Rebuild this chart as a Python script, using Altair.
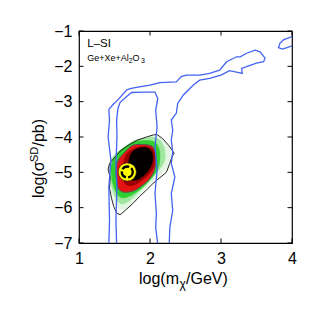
import altair as alt
import pandas as pd

# ---------------- data ----------------
x_ticks = [1, 2, 3, 4]
y_ticks = [-7, -6, -5, -4, -3, -2, -1]

# outer blue (95%) contour
blue_outer_x = [1.42, 1.43, 1.42, 1.45, 1.41, 1.43, 1.42, 1.48, 1.56, 1.67, 1.72, 1.85, 2.00, 2.14,
                2.37, 2.44, 2.51, 2.70, 2.84, 2.98, 3.08, 3.22, 3.27, 3.36, 3.48, 3.55, 3.62, 3.60,
                3.50, 3.36, 3.29, 3.30, 3.12, 3.00, 2.84, 2.70, 2.61, 2.47, 2.39, 2.37, 2.30, 2.32,
                2.30, 2.32, 2.30, 2.35, 2.30, 2.32, 2.28, 2.27]
blue_outer_y = [-7.05, -6.36, -5.41, -4.66, -4.00, -3.52, -3.22, -3.08, -2.92, -2.67, -2.63, -2.58,
                -2.53, -2.46, -2.44, -2.29, -2.25, -2.25, -2.20, -2.11, -1.87, -1.73, -1.73, -1.63,
                -1.54, -1.59, -1.77, -1.87, -1.91, -2.01, -2.06, -2.20, -2.12, -2.25, -2.34, -2.39,
                -2.53, -2.81, -3.05, -3.33, -3.52, -3.81, -4.09, -4.42, -4.75, -5.13, -5.60, -6.08,
                -6.55, -7.05]

# inner blue contour
blue_inner_x = [1.53, 1.52, 1.535, 1.52, 1.535, 1.53, 1.55, 1.58, 1.68, 1.74, 1.90, 2.07, 2.11,
                2.08, 2.10, 2.07, 2.10, 2.07, 2.09, 2.08, 2.11]
blue_inner_y = [-7.05, -6.36, -5.41, -4.75, -4.00, -3.52, -3.18, -3.02, -2.84, -2.74, -2.73, -2.73,
                -2.91, -3.24, -3.71, -4.28, -4.94, -5.60, -6.17, -6.55, -7.05]

# blue island entering from the upper right corner
blue_corner_x = [4.05, 4.00, 3.88, 3.83, 3.81, 3.86, 3.93, 4.00, 4.05]
blue_corner_y = [-1.13, -1.16, -1.25, -1.35, -1.47, -1.51, -1.47, -1.42, -1.40]

# black contour of the filled region
black_x = [1.41, 1.43, 1.50, 1.58, 1.68, 1.81, 1.95, 2.05, 2.10, 2.18, 2.26, 2.31, 2.34, 2.31,
           2.28, 2.23, 2.14, 2.04, 1.95, 1.85, 1.76, 1.66, 1.58, 1.53, 1.49, 1.46, 1.43, 1.44, 1.41]
black_y = [-4.92, -4.75, -4.58, -4.40, -4.25, -4.10, -4.00, -3.94, -3.93, -4.05, -4.23, -4.37,
           -4.46, -4.56, -4.74, -5.00, -5.15, -5.32, -5.50, -5.69, -5.88, -6.06, -6.20, -6.15,
           -5.97, -5.75, -5.45, -5.15, -4.92]

# filled probability levels (outer to inner)
pale_x = [1.42, 1.44, 1.50, 1.60, 1.72, 1.88, 2.02, 2.10, 2.20, 2.28, 2.28, 2.22, 2.10, 1.96,
          1.82, 1.70, 1.60, 1.52, 1.46, 1.44]
pale_y = [-4.92, -4.72, -4.55, -4.38, -4.22, -4.05, -3.98, -3.97, -4.12, -4.35, -4.60, -4.90,
          -5.15, -5.42, -5.72, -5.96, -6.06, -5.92, -5.60, -5.20]
light_x = [1.43, 1.45, 1.53, 1.64, 1.78, 1.93, 2.06, 2.15, 2.21, 2.20, 2.10, 1.97, 1.82, 1.68,
           1.58, 1.50, 1.45]
light_y = [-4.92, -4.65, -4.45, -4.28, -4.10, -4.03, -4.01, -4.12, -4.38, -4.70, -5.00, -5.30,
           -5.60, -5.85, -5.88, -5.65, -5.30]
green_x = [1.45, 1.48, 1.56, 1.66, 1.78, 1.92, 2.04, 2.11, 2.14, 2.12, 2.04, 1.92, 1.78, 1.64,
           1.55, 1.48]
green_y = [-4.92, -4.65, -4.42, -4.27, -4.14, -4.10, -4.12, -4.25, -4.50, -4.85, -5.12, -5.38,
           -5.60, -5.72, -5.65, -5.35]
red_x = [1.52, 1.555, 1.65, 1.765, 1.95, 2.047, 2.085, 2.06, 1.98, 1.87, 1.765, 1.624, 1.554, 1.53]
red_y = [-4.93, -4.65, -4.42, -4.23, -4.22, -4.30, -4.60, -4.95, -5.22, -5.40, -5.53, -5.56,
         -5.45, -5.22]
darkred_x = [1.62, 1.66, 1.74, 1.85, 1.96, 2.04, 2.07, 2.05, 1.97, 1.85, 1.73, 1.64, 1.61]
darkred_y = [-4.80, -4.52, -4.37, -4.28, -4.27, -4.35, -4.56, -4.85, -5.08, -5.28, -5.38, -5.30,
             -5.05]
core_x = [1.70, 1.74, 1.82, 1.93, 2.01, 2.04, 2.02, 1.95, 1.85, 1.75, 1.69]
core_y = [-4.70, -4.45, -4.33, -4.30, -4.38, -4.56, -4.80, -5.02, -5.18, -5.22, -5.05]

best_x = [1.68]
best_y = [-4.99]

# ---------------- chart ----------------
W, H = 213, 212
FONT = "Liberation Sans"
xs = alt.Scale(domain=[1, 4], nice=False, zero=False)
ys = alt.Scale(domain=[-7, -1], nice=False, zero=False)
X_AXIS = alt.Axis(values=x_ticks, title=None, format="d")
Y_AXIS = alt.Axis(values=y_ticks, title=None, format="d")


def XE(field="x:Q"):
    return alt.X(field, scale=xs, axis=X_AXIS)


def YE(field="y:Q"):
    return alt.Y(field, scale=ys, axis=Y_AXIS)


def path_df(xv, yv):
    return pd.DataFrame({"x": xv, "y": yv, "i": list(range(len(xv)))})


def enc(chart):
    return chart.encode(x=XE(), y=YE(), order="i:O")


layers = []

fills = [
    (pale_x, pale_y, "#e2f6e2", "#e2f6e2", 0.5),
    (light_x, light_y, "#9fe69f", "#9fe69f", 0.5),
    (green_x, green_y, "#30cf30", "#30cf30", 0.5),
    (red_x, red_y, "#e41414", "#555555", 1.0),
    (darkred_x, darkred_y, "#9a0000", "#9a0000", 0.5),
    (core_x, core_y, "#050000", "#050000", 0.5),
]
for fx, fy, fc, sc, sw in fills:
    layers.append(enc(alt.Chart(path_df(fx, fy)).mark_line(
        interpolate="cardinal-closed", fill=fc, stroke=sc, strokeWidth=sw, clip=True)))

layers.append(enc(alt.Chart(path_df(black_x, black_y)).mark_line(
    color="#222222", strokeWidth=1.0, clip=True)))

for bx, by in [(blue_outer_x, blue_outer_y), (blue_inner_x, blue_inner_y), (blue_corner_x, blue_corner_y)]:
    layers.append(enc(alt.Chart(path_df(bx, by)).mark_line(
        color="#4263f2", strokeWidth=1.3, clip=True)))

best = pd.DataFrame({"x": best_x, "y": best_y})
layers.append(alt.Chart(best).mark_point(shape="circle", filled=True, fill="#ffff00", stroke="#222222",
                                         strokeWidth=0.6, size=330, opacity=1).encode(x=XE(), y=YE()))
layers.append(alt.Chart(best).mark_point(shape="circle", filled=False, stroke="#000000", strokeWidth=2.4,
                                         size=120, strokeDash=[7.5, 2.3], opacity=1).encode(x=XE(), y=YE()))

# inward ticks on all four sides
xt = pd.DataFrame({"x": x_ticks})
yt = pd.DataFrame({"y": y_ticks})
for y0, y1 in [(H, H - 4.5), (0, 4.5)]:
    layers.append(alt.Chart(xt).mark_rule(color="black", strokeWidth=1).encode(
        x=XE(), y=alt.value(y0), y2=alt.value(y1)))
for x0, x1 in [(0, 4.5), (W, W - 4.5)]:
    layers.append(alt.Chart(yt).mark_rule(color="black", strokeWidth=1).encode(
        y=YE(), x=alt.value(x0), x2=alt.value(x1)))


def label(txt, x, y, size, angle=0, align="left"):
    kw = {}
    if angle:
        kw["angle"] = angle
    return alt.Chart(pd.DataFrame({"t": [txt]})).mark_text(
        font=FONT, fontSize=size, color="black", align=align, baseline="alphabetic", **kw
    ).encode(x=alt.value(x), y=alt.value(y), text="t:N")


# in-plot annotations
layers.append(label("L–SI", 8.3, 15.7, 11.5))
layers.append(label("Ge+Xe+Al", 8.3, 29.5, 9))
layers.append(label("2", 49.8, 31.8, 7))
layers.append(label("O", 53.5, 29.5, 9))
layers.append(label("3", 62.0, 31.8, 7))

# x-axis title: log(m_chi/GeV)
layers.append(label("log(m", 60, 252.5, 16))
layers.append(label("χ", 100.5, 257, 12))
layers.append(label("/GeV)", 107, 252.5, 16))

# y-axis title: log(sigma^SD/pb), rotated
layers.append(label("log(σ", -35, 167, 16, angle=270))
layers.append(label("SD", -41, 131, 11, angle=270))
layers.append(label("/pb)", -35, 115.5, 16, angle=270))

chart = alt.layer(*layers).properties(
    width=W, height=H,
    padding={"left": 71, "top": 23, "right": 10, "bottom": 50},
    autosize="none",
).configure_view(
    stroke="black", strokeWidth=1.2
).configure_axis(
    grid=False, ticks=False, domain=False, labelFont=FONT, labelFontSize=16,
    labelColor="black", labelPadding=7, labelFlush=False
)

chart.save("out.html", embed_options={"renderer": "svg", "actions": False})
